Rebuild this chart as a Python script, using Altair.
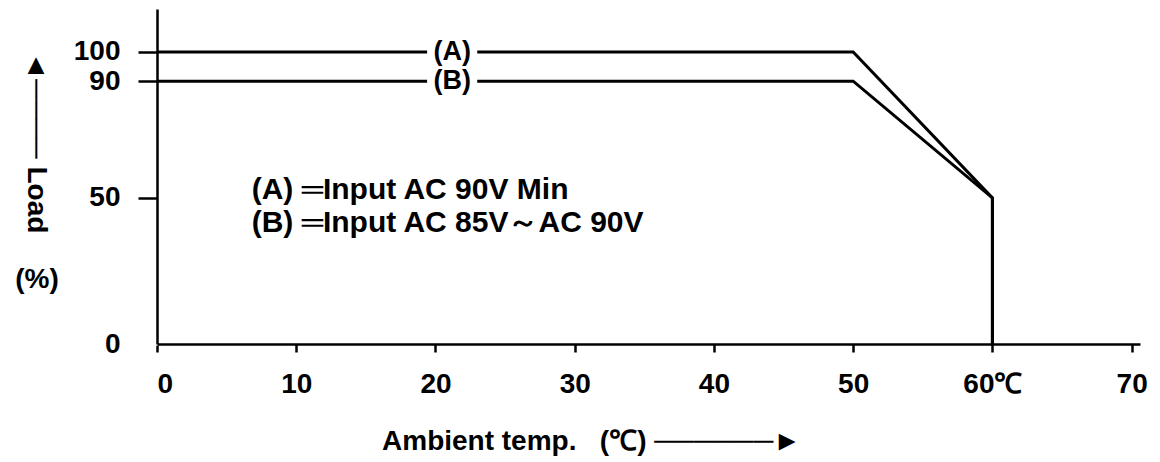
import altair as alt
import pandas as pd

# Derating curves: ambient temperature (°C) vs load (%)
temp_points = [0, 50, 60, 60]
load_a = [100, 100, 50, 0]
load_b = [90, 90, 50, 0]
series_names = ["(A)", "(B)"]

# line tags placed on the flat part of each curve
tag_x = [21.2, 21.2]
tag_y = [100, 90]

legend_lines = ["(A) ═Input AC 90V Min", "(B) ═Input AC 85V～AC 90V"]
legend_x = [6.8, 6.8]
legend_y = [52.7, 41.4]

x_ticks = [0, 10, 20, 30, 40, 50, 60, 70]
y_ticks = [0, 50, 90, 100]

rows = []
for name, loads in zip(series_names, [load_a, load_b]):
    for i, (t, l) in enumerate(zip(temp_points, loads)):
        rows.append({"series": name, "temp": t, "load": l, "order": i})
curves = pd.DataFrame(rows)

tags = pd.DataFrame({"tag": series_names, "x": tag_x, "y": tag_y,
                     "x0": [v - 1.8 for v in tag_x], "x1": [v + 1.8 for v in tag_x],
                     "y0": [v - 2.2 for v in tag_y], "y1": [v + 2.2 for v in tag_y]})
legend = pd.DataFrame({"text": legend_lines, "x": legend_x, "y": legend_y})

FONT = "Liberation Sans"
FS = 28
FW = "bold"

xscale = alt.Scale(domain=[0, 70.6], nice=False, zero=False)
yscale = alt.Scale(domain=[0, 114.7], nice=False, zero=False)

x_axis = alt.Axis(values=x_ticks, title="Ambient temp.\u00a0\u00a0 (℃) ──────►",
                  labelExpr="datum.value == 60 ? '60℃' : datum.label",
                  tickSize=8, labelPadding=18, grid=False,
                  titleX=434, titleY=97, titleBaseline="middle", titleAlign="center",
                  titleFontSize=FS, titleFontWeight=FW)
y_axis = alt.Axis(values=y_ticks, title="◄──── Load",
                  tickSize=19, labelPadding=18, grid=False,
                  tickColor={"condition": {"test": "datum.value === 0", "value": "white"}, "value": "black"},
                  titleAngle=90, titleX=-122, titleY=133, titleBaseline="middle",
                  titleAlign="center", titleFontSize=FS, titleFontWeight=FW)

lines = alt.Chart(curves).mark_line(color="black", strokeWidth=3, strokeJoin="miter").encode(
    x=alt.X("temp:Q", scale=xscale, axis=x_axis),
    y=alt.Y("load:Q", scale=yscale, axis=y_axis),
    detail="series:N",
    order="order:Q",
)

gaps = alt.Chart(tags).mark_rect(color="white").encode(
    x=alt.X("x0:Q", scale=xscale), x2="x1:Q",
    y=alt.Y("y0:Q", scale=yscale), y2="y1:Q",
)

tag_text = alt.Chart(tags).mark_text(font=FONT, fontSize=27, fontWeight=FW, color="black",
                                     baseline="middle").encode(
    x=alt.X("x:Q", scale=xscale), y=alt.Y("y:Q", scale=yscale), text="tag:N"
)

legend_text = alt.Chart(legend).mark_text(font=FONT, fontSize=30, fontWeight=FW, color="black",
                                           align="left", baseline="middle").encode(
    x=alt.X("x:Q", scale=xscale), y=alt.Y("y:Q", scale=yscale), text="text:N"
)

pct = alt.Chart(pd.DataFrame({"t": ["(%)"]})).mark_text(
    font=FONT, fontSize=FS, fontWeight=FW, color="black", baseline="middle", align="center"
).encode(x=alt.value(-120), y=alt.value(271), text="t:N")

chart = alt.layer(lines, gaps, tag_text, legend_text, pct).properties(
    width=983, height=335,
    autosize=alt.AutoSizeParams(type="none"),
    padding={"left": 149, "top": 1, "right": 12, "bottom": 116},
).configure_view(stroke=None).configure_axis(
    domainColor="black", domainWidth=2.5, tickColor="black", tickWidth=2.5,
    labelFont=FONT, labelFontSize=FS, labelFontWeight=FW, labelColor="black",
    titleFont=FONT, titleColor="black",
)

chart.save("out.html", embed_options={"renderer": "svg", "actions": False})
